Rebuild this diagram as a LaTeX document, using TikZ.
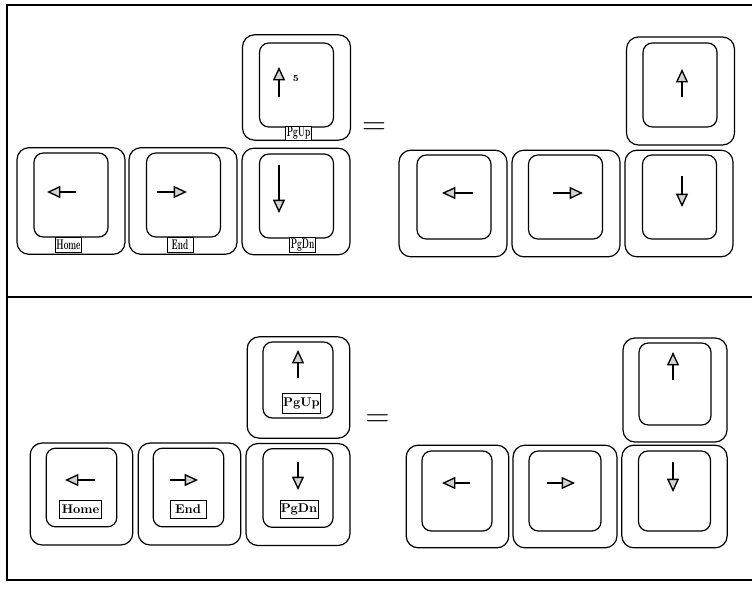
\documentclass[tikz,border=0pt]{standalone}
\usepackage{graphicx}
\usetikzlibrary{arrows.meta,positioning}
\newcommand{\tightname}[1]{\scalebox{0.58}[1]{\fontsize{10.5}{10.5}\selectfont\bfseries #1}}
\begin{document}
\begin{tikzpicture}[x=0.75pt,y=-0.75pt,
    bigcap/.style={draw,rounded corners=9pt,line width=0.9pt,
      minimum width=81pt,minimum height=80pt,inner sep=0pt},
    bigtop/.style={draw,rounded corners=7pt,line width=0.9pt,
      minimum width=55.5pt,minimum height=63pt,inner sep=0pt},
    smallcap/.style={draw,rounded corners=9pt,line width=0.9pt,
      minimum width=77pt,minimum height=76.5pt,inner sep=0pt},
    smalltop/.style={draw,rounded corners=7pt,line width=0.9pt,
      minimum width=53pt,minimum height=59pt,inner sep=0pt},
    tinylabel/.style={draw,fill=white,line width=0.7pt,inner sep=0pt,
      minimum width=20pt,minimum height=11.5pt},
    plainlabel/.style={draw,fill=white,line width=0.7pt,inner sep=0pt,
      minimum height=13.5pt,font=\fontsize{9.5}{10}\selectfont\bfseries},
    eqsign/.style={inner sep=0pt,font=\fontsize{24}{24}\selectfont},
    arr/.style={-{Triangle[length=10pt,width=9pt,fill=gray!35]},line width=1pt}
  ]
    \useasboundingbox (0,0) rectangle (752,592);
    % frame
    \draw[line width=1.1pt] (752,5) -- (7,5) -- (7,580) -- (752,580);
    \draw[line width=1.1pt] (7,297) -- (752,297);

    % top left: keys with small labels
    \node[bigcap,minimum height=79pt] (tlup) at (296.5,87.5) {};
    \node[bigtop] (tluptop) at (296.5,85) {};
    \node[bigcap] (tlhome) at (71,201) {};
    \node[bigtop] (tlhometop) at (71,195) {};
    \node[bigcap] (tlend) at (183,201) {};
    \node[bigtop] (tlendtop) at (183.5,195) {};
    \node[bigcap] (tldn) at (296,201.5) {};
    \node[bigtop] (tldntop) at (296.5,196) {};
    \node[tinylabel,minimum height=10pt] (tluplab) at (298.5,133.5) {\tightname{PgUp}};
    \node[tinylabel] (tlhomelab) at (68.5,245) {\tightname{Home}};
    \node[tinylabel,minimum width=19.5pt] (tlendlab) at (180,245) {\tightname{End}};
    \node[tinylabel] (tldnlab) at (302.5,245) {\tightname{PgDn}};
    \node[inner sep=0pt,font=\fontsize{7}{7}\selectfont\bfseries] (tlmark) at (296,78) {5};
    \draw[arr] (279,97) -- (279,67);
    \draw[arr] (76,192) -- (47,192);
    \draw[arr] (157,192) -- (187,192);
    \draw[arr] (279,165) -- (279,213);
    \node[eqsign] (tleq) at (374,129) {$=$};

    % top right: arrow keys only
    \node[bigcap,minimum height=81pt] (trup) at (680.5,91) {};
    \node[bigtop] (truptop) at (680,85) {};
    \node[bigcap] (trleft) at (453,203.5) {};
    \node[bigtop] (trlefttop) at (454,197) {};
    \node[bigcap] (trright) at (566,203.5) {};
    \node[bigtop] (trrighttop) at (565.5,197) {};
    \node[bigcap] (trdn) at (679,203.5) {};
    \node[bigtop] (trdntop) at (679.5,197) {};
    \draw[arr] (682,97) -- (682,69);
    \draw[arr] (473,193) -- (442,193);
    \draw[arr] (553,193) -- (583,193);
    \draw[arr] (682,176) -- (682,207);

    % bottom left: keys with framed labels
    \node[smallcap,minimum height=76pt] (blup) at (298.5,387.5) {};
    \node[smalltop,minimum width=52.5pt,minimum height=57pt] (bluptop) at (298,380) {};
    \node[smallcap] (blhome) at (81.5,494) {};
    \node[smalltop] (blhometop) at (81.5,487.5) {};
    \node[smallcap] (blend) at (189.5,494) {};
    \node[smalltop] (blendtop) at (188.5,487.5) {};
    \node[smallcap,minimum width=78pt] (bldn) at (298,494.5) {};
    \node[smalltop,minimum width=52.5pt] (bldntop) at (298,488) {};
    \node[plainlabel,minimum width=28pt,minimum height=15.5pt] (bluplab) at (301.5,403.5) {PgUp};
    \node[plainlabel,minimum width=31pt] (blhomelab) at (80.5,509) {Home};
    \node[plainlabel,minimum width=27pt] (blendlab) at (188,509) {End};
    \node[plainlabel,minimum width=28.5pt] (bldnlab) at (299,509) {PgDn};
    \draw[arr] (298,378) -- (298,350);
    \draw[arr] (95,480) -- (65,480);
    \draw[arr] (170,480) -- (198,480);
    \draw[arr] (298,462) -- (298,490);
    \node[eqsign] (bleq) at (377.5,420.5) {$=$};

    % bottom right: arrow keys only
    \node[smallcap,minimum width=78pt,minimum height=78pt] (brup) at (675,390) {};
    \node[smalltop,minimum width=54pt,minimum height=61.5pt] (bruptop) at (675,384) {};
    \node[smallcap,minimum height=77pt] (brleft) at (457.5,496.5) {};
    \node[smalltop,minimum width=52.5pt,minimum height=60pt] (brlefttop) at (457,491) {};
    \node[smallcap,minimum width=78pt,minimum height=77pt] (brright) at (565,496.5) {};
    \node[smalltop,minimum width=54pt,minimum height=60pt] (brrighttop) at (565,491) {};
    \node[smallcap,minimum width=79pt,minimum height=77pt] (brdn) at (674.5,496.5) {};
    \node[smalltop,minimum width=54pt,minimum height=60pt] (brdntop) at (674.5,491) {};
    \draw[arr] (673,380) -- (673,352);
    \draw[arr] (470,483) -- (442,483);
    \draw[arr] (547,483) -- (575,483);
    \draw[arr] (673,462) -- (673,492);
\end{tikzpicture}
\end{document}
